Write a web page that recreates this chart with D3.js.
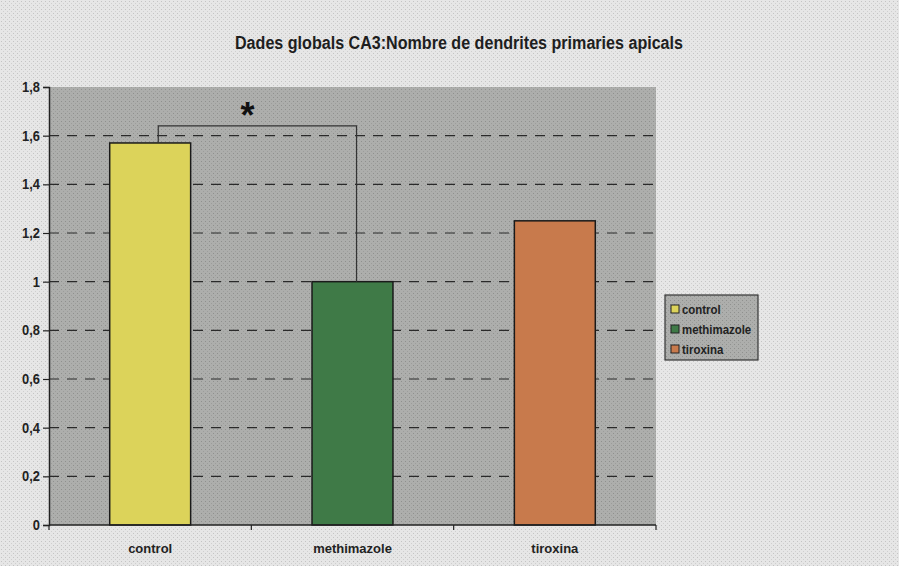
<!DOCTYPE html>
<html>
<head>
<meta charset="utf-8">
<script src="https://cdn.jsdelivr.net/npm/d3@7"></script>
<style>
  html, body { margin: 0; padding: 0; background: #e2e2e2; }
  svg { display: block; }
  text { font-family: "Liberation Sans", Arial, sans-serif; font-weight: bold; }
</style>
</head>
<body>
<script>
// Data
const categories = ["control", "methimazole", "tiroxina"];
const values = [1.57, 1.0, 1.25];
const barColors = ["#dcd35a", "#3f7a47", "#c87a4c"];
const yTicks = [0, 0.2, 0.4, 0.6, 0.8, 1, 1.2, 1.4, 1.6, 1.8];
const yTickLabels = ["0", "0,2", "0,4", "0,6", "0,8", "1", "1,2", "1,4", "1,6", "1,8"];
const title = "Dades globals CA3:Nombre de dendrites primaries apicals";
// significance bracket between control and methimazole, at this value
const bracketPair = ["control", "methimazole"];
const bracketLevel = 1.64;

const W = 899, H = 566;
const plot = { left: 49, right: 656, top: 87, bottom: 525 };
const narrow = "'Liberation Sans Narrow', 'Liberation Sans', Arial, sans-serif";

const svg = d3.select("body").append("svg").attr("width", W).attr("height", H);

// halftone-like grain
const defs = svg.append("defs");
const pg = defs.append("pattern").attr("id", "grainLight")
  .attr("width", 4).attr("height", 4).attr("patternUnits", "userSpaceOnUse");
pg.append("rect").attr("width", 4).attr("height", 4).attr("fill", "#e6e6e6");
pg.append("rect").attr("x", 1).attr("y", 1).attr("width", 1).attr("height", 1).attr("fill", "#c4c4c4");
pg.append("rect").attr("x", 3).attr("y", 3).attr("width", 1).attr("height", 1).attr("fill", "#cfcfcf");
const pd = defs.append("pattern").attr("id", "grainDark")
  .attr("width", 4).attr("height", 4).attr("patternUnits", "userSpaceOnUse");
pd.append("rect").attr("width", 4).attr("height", 4).attr("fill", "#adaeac");
pd.append("rect").attr("x", 1).attr("y", 1).attr("width", 1).attr("height", 1).attr("fill", "#8f908e");
pd.append("rect").attr("x", 3).attr("y", 3).attr("width", 1).attr("height", 1).attr("fill", "#9c9d9b");

svg.append("rect").attr("width", W).attr("height", H).attr("fill", "url(#grainLight)");

const x = d3.scaleBand().domain(categories).range([plot.left, plot.right]).paddingInner(0.6).paddingOuter(0.3);
const y = d3.scaleLinear().domain([0, 1.8]).range([plot.bottom, plot.top]);

// plot area
svg.append("rect")
  .attr("x", plot.left).attr("y", plot.top)
  .attr("width", plot.right - plot.left).attr("height", plot.bottom - plot.top)
  .attr("fill", "url(#grainDark)");

// dashed gridlines (not on the baseline or the top edge)
svg.append("g").selectAll("line").data(yTicks.filter(d => d > 0 && d < 1.8)).join("line")
  .attr("x1", plot.left).attr("x2", plot.right)
  .attr("y1", d => y(d)).attr("y2", d => y(d))
  .attr("stroke", "#2a2a2a").attr("stroke-width", 1.2)
  .attr("stroke-dasharray", "10,8");

// bars
svg.append("g").selectAll("rect").data(categories).join("rect")
  .attr("x", d => x(d)).attr("width", x.bandwidth())
  .attr("y", (d, i) => y(values[i]))
  .attr("height", (d, i) => y(0) - y(values[i]))
  .attr("fill", (d, i) => barColors[i])
  .attr("stroke", "#1a1a1a").attr("stroke-width", 1.5);

// y axis
const yAxis = d3.axisLeft(y).tickValues(yTicks)
  .tickFormat((d, i) => yTickLabels[i]).tickSize(6).tickPadding(3);
const gy = svg.append("g").attr("transform", `translate(${plot.left},0)`).call(yAxis);
gy.select(".domain").attr("stroke", "#222").attr("stroke-width", 1.5);
gy.selectAll(".tick line").attr("stroke", "#222").attr("stroke-width", 1.2);
gy.selectAll(".tick text").attr("fill", "#222").style("font-size", "14px")
  .style("font-family", narrow).style("font-weight", "bold")
  .attr("transform", "scale(0.92,1)").attr("x", -9 / 0.92);

// x axis with ticks between categories
const bandStep = (plot.right - plot.left) / categories.length;
const xAxisG = svg.append("g");
xAxisG.append("line").attr("x1", plot.left).attr("x2", plot.right)
  .attr("y1", plot.bottom).attr("y2", plot.bottom)
  .attr("stroke", "#222").attr("stroke-width", 1.5);
xAxisG.selectAll("line.sep").data(d3.range(categories.length + 1)).join("line")
  .attr("class", "sep")
  .attr("x1", i => plot.left + i * bandStep).attr("x2", i => plot.left + i * bandStep)
  .attr("y1", plot.bottom).attr("y2", plot.bottom + 5)
  .attr("stroke", "#222").attr("stroke-width", 1.2);
xAxisG.selectAll("text").data(categories).join("text")
  .attr("x", d => x(d) + x.bandwidth() / 2).attr("y", plot.bottom + 28)
  .attr("text-anchor", "middle").attr("fill", "#222")
  .style("font-size", "13px").style("font-family", narrow)
  .text(d => d);

// significance bracket
const bx1 = x(bracketPair[0]) + x.bandwidth() * 0.6;
const bx2 = x(bracketPair[1]) + x.bandwidth() * 0.55;
const v1 = values[categories.indexOf(bracketPair[0])];
const v2 = values[categories.indexOf(bracketPair[1])];
svg.append("path")
  .attr("d", `M${bx1},${y(v1)} V${y(bracketLevel)} H${bx2} V${y(v2)}`)
  .attr("fill", "none").attr("stroke", "#333").attr("stroke-width", 1.2);
svg.append("text")
  .attr("x", bx1 + (bx2 - bx1) * 0.45).attr("y", y(bracketLevel) + 2)
  .attr("text-anchor", "middle").attr("fill", "#111")
  .style("font-size", "36px").text("*");

// title
svg.append("text").attr("x", 459).attr("y", 49)
  .attr("text-anchor", "middle").attr("fill", "#1e1e1e")
  .style("font-size", "18px").style("font-family", narrow)
  .attr("textLength", 448).attr("lengthAdjust", "spacingAndGlyphs")
  .text(title);

// legend
const lg = svg.append("g").attr("transform", "translate(665,295)");
lg.append("rect").attr("width", 93).attr("height", 65)
  .attr("fill", "url(#grainDark)").attr("stroke", "#333").attr("stroke-width", 1.2);
categories.forEach((c, i) => {
  const row = lg.append("g").attr("transform", `translate(6,${10 + i * 20})`);
  row.append("rect").attr("width", 8).attr("height", 8)
    .attr("fill", barColors[i]).attr("stroke", "#222").attr("stroke-width", 1);
  row.append("text").attr("x", 11).attr("y", 9).attr("fill", "#222")
    .style("font-size", "13px").style("font-family", narrow)
    .attr("transform", "scale(0.88,1)").attr("x", 11 / 0.88)
    .text(c);
});
</script>
</body>
</html>
